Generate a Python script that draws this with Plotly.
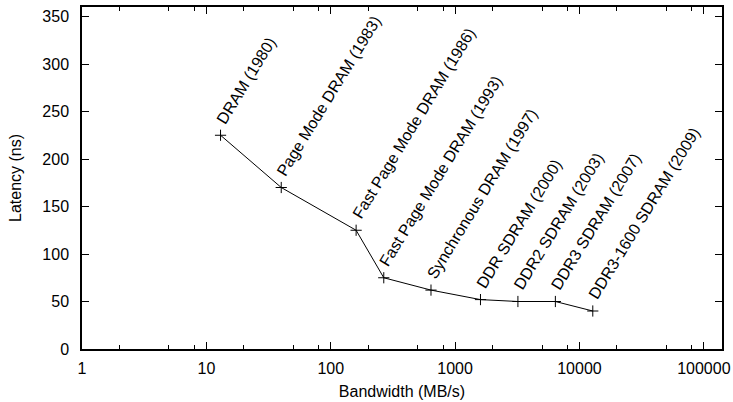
import math
import plotly.graph_objects as go

# Data
labels = ["DRAM (1980)", "Page Mode DRAM (1983)", "Fast Page Mode DRAM (1986)",
          "Fast Page Mode DRAM (1993)", "Synchronous DRAM (1997)", "DDR SDRAM (2000)",
          "DDR2 SDRAM (2003)", "DDR3 SDRAM (2007)", "DDR3-1600 SDRAM (2009)"]
bandwidth = [13, 40, 160, 267, 640, 1600, 3200, 6400, 12800]
latency = [225, 170, 125, 75, 62, 52, 50, 50, 40]

x_ticks = [1, 10, 100, 1000, 10000, 100000]
x_tick_text = ["1", "10", "100", "1000", "10000", "100000"]
y_ticks = [0, 50, 100, 150, 200, 250, 300, 350]
x_minor = [m * 10 ** e for e in range(0, 6) for m in (2, 5, 8)]

FONT = "Liberation Sans, Arial, sans-serif"

fig = go.Figure()
fig.add_trace(go.Scatter(
    x=bandwidth, y=latency, mode="lines+markers",
    line=dict(color="black", width=1),
    marker=dict(symbol="cross-thin", size=8, line=dict(color="black", width=1)),
    showlegend=False, hoverinfo="skip",
))

for lab, xv, yv in zip(labels, bandwidth, latency):
    fig.add_annotation(
        x=math.log10(xv), y=yv, text=lab, showarrow=False,
        textangle=-58.5, xanchor="left", yanchor="bottom",
        xshift=-10, yshift=6,
        font=dict(family=FONT, size=16, color="black"),
    )

fig.update_layout(
    width=733, height=402,
    margin=dict(l=82, r=11, t=7, b=53),
    paper_bgcolor="white", plot_bgcolor="white",
    font=dict(family=FONT, size=16, color="black"),
)
fig.update_xaxes(
    type="log", range=[0, math.log10(140000)], automargin=False,
    tickmode="array", tickvals=x_ticks, ticktext=x_tick_text,
    ticks="inside", ticklen=7, tickwidth=1, tickcolor="black",
    showline=True, linecolor="black", linewidth=1.5, mirror="ticks",
    showgrid=False, zeroline=False,
    minor=dict(tickmode="array", tickvals=x_minor, ticks="inside", ticklen=4,
               tickwidth=1, tickcolor="black", showgrid=False),
    title=dict(text="Bandwidth (MB/s)", standoff=10, font=dict(size=16)),
    ticklabelstandoff=4,
)
fig.update_yaxes(
    range=[0, 360], automargin=False,
    tickmode="array", tickvals=y_ticks,
    ticks="inside", ticklen=7, tickwidth=1, tickcolor="black",
    showline=True, linecolor="black", linewidth=1.5, mirror="ticks",
    showgrid=False, zeroline=False,
    title=dict(text="Latency (ns)", standoff=17, font=dict(size=16)),
    ticklabelstandoff=8,
)

fig.write_html("out.html")
